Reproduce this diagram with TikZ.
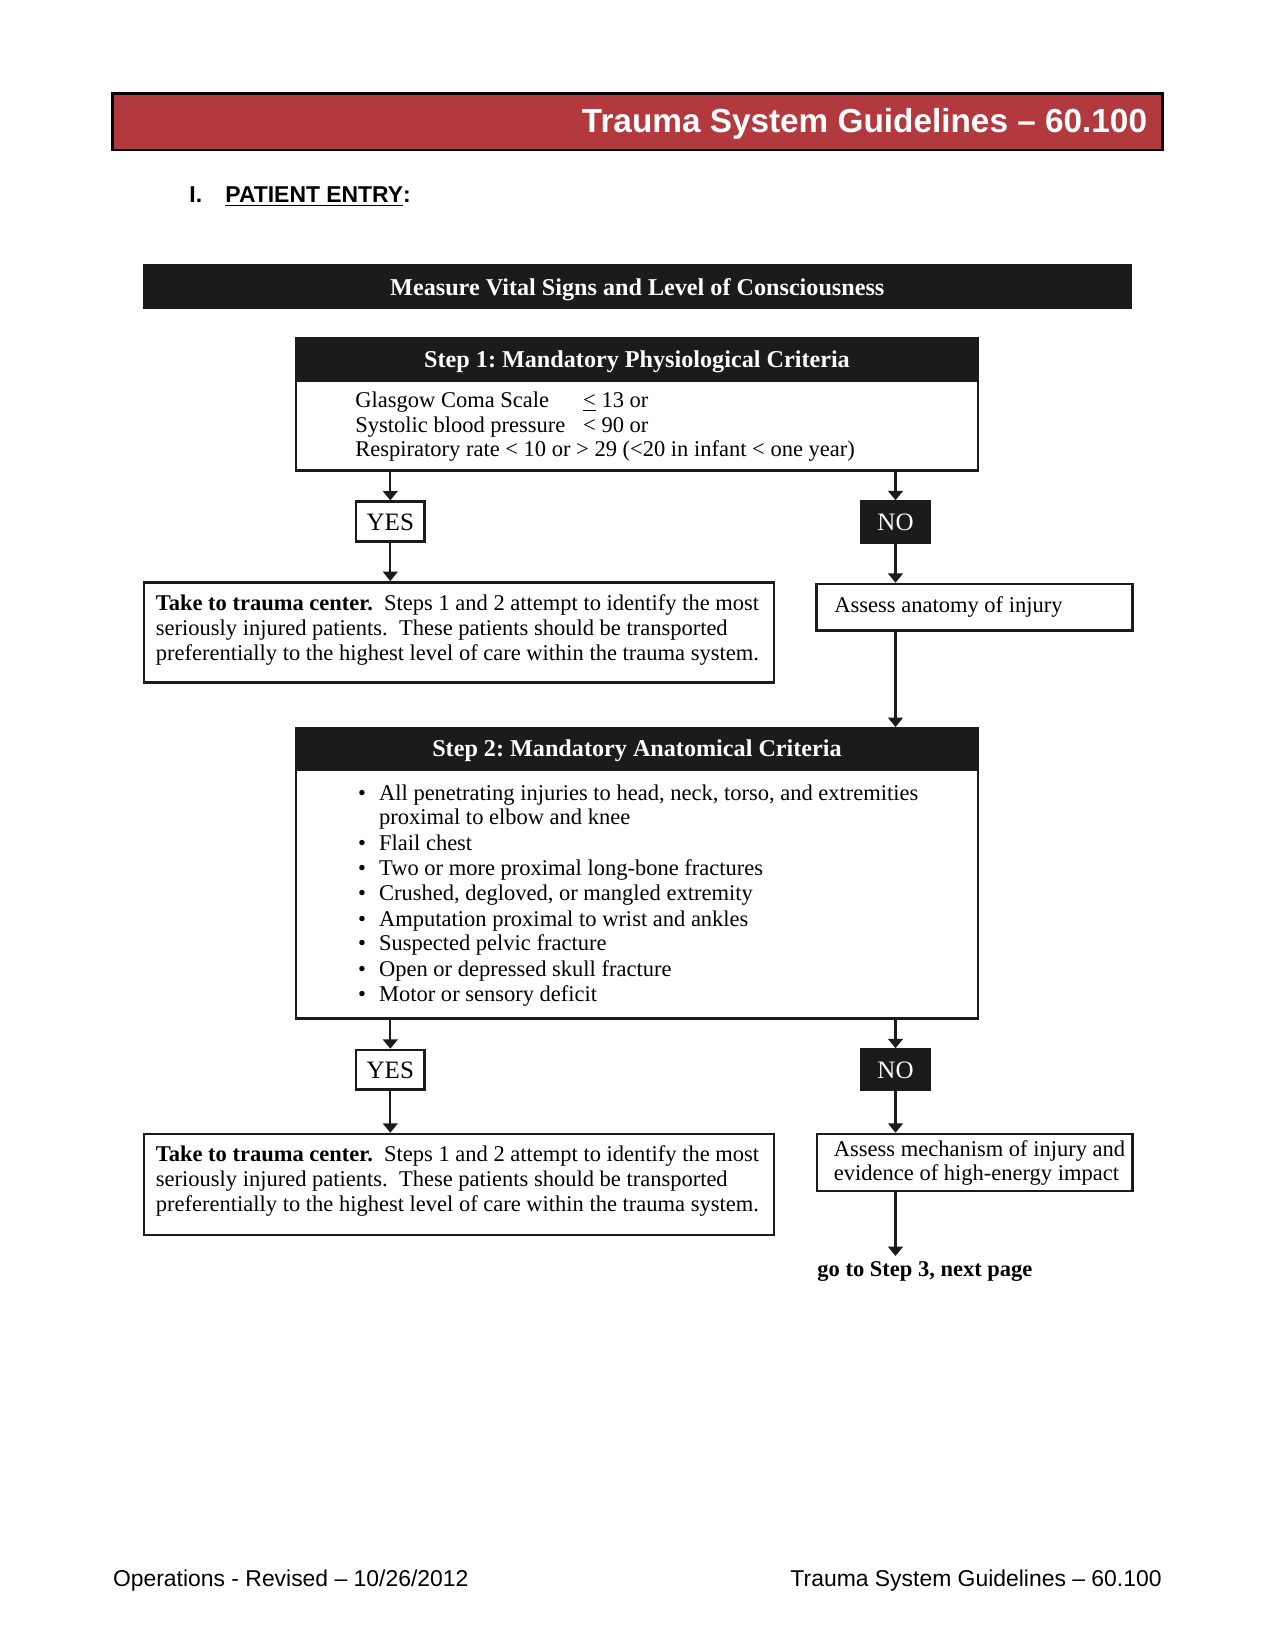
\documentclass[tikz,border=0pt]{standalone}
\usepackage{fontspec}
\setmainfont{Liberation Serif}
\newfontfamily\arialf{Liberation Sans}
\usetikzlibrary{arrows.meta,fit}
\definecolor{hdrred}{RGB}{178,58,62}
\definecolor{barblk}{RGB}{28,26,27}
\newcommand{\bodyf}{\fontsize{10.8}{11.8}\selectfont}
\newcommand{\hdrf}{\fontsize{11.6}{13}\selectfont\bfseries}
\frenchspacing
\begin{document}
\begin{tikzpicture}[x=0.48pt,y=-0.48pt,
  frame/.style={draw=barblk, line width=1.2pt, inner sep=0pt, fill=white},
  hdrbox/.style={fill=barblk, draw=barblk, line width=1.2pt, inner sep=0pt},
  hdrtxt/.style={text=white, font=\hdrf, inner sep=0pt, anchor=base},
  btxt/.style={font=\bodyf, inner sep=0pt, anchor=base west},
  bul/.style={font=\bodyf, inner sep=0pt, anchor=base},
  yesbox/.style={draw=barblk, line width=1.2pt, fill=white, inner sep=0pt},
  nobox/.style={draw=barblk, line width=1.2pt, fill=barblk, inner sep=0pt},
  lbl/.style={font=\fontsize{12}{14}\selectfont, inner sep=0pt, anchor=base},
  arr/.style={-{Triangle[width=7pt,length=4.5pt]}, line width=1.1pt, draw=barblk},
  sansf/.style={inner sep=0pt, font=\arialf\fontsize{11}{13}\selectfont},
]
\useasboundingbox[fill=white] (0,0) rectangle (1275,1650);

% page header
\node[fit={(112.6,93.3) (1162.8,150)}, fill=hdrred, draw=black, line width=1.3pt, inner sep=0pt] (redbar) {};
\node[font=\arialf\bfseries\fontsize{16}{19}\selectfont, text=white, anchor=base east, inner sep=0pt] (title) at (1147.5,133) {Trauma System Guidelines – 60.100};

\node[sansf, font=\arialf\bfseries\fontsize{11}{13}\selectfont, anchor=base west] (secnum) at (189,203) {I.};
\node[sansf, font=\arialf\bfseries\fontsize{11}{13}\selectfont, anchor=base west] (sectitle) at (225,203) {\underline{PATIENT ENTRY}:};

% vital signs bar
\node[fit={(144,265) (1130.7,307.3)}, hdrbox] (vital) {};
\node[hdrtxt] (vitaltxt) at (637.3,296) {Measure Vital Signs and Level of Consciousness};

% step 1
\node[fit={(295.8,338) (978,470.7)}, frame] (s1) {};
\node[fit={(295.8,338) (978,380.7)}, hdrbox] (s1h) {};
\node[hdrtxt] (s1t) at (637,368) {Step 1: Mandatory Physiological Criteria};
\node[btxt] (g1) at (355,408) {Glasgow Coma Scale};
\node[btxt] (g2) at (582.8,408) {\underline{<} 13 or};
\node[btxt] (p1) at (355,433) {Systolic blood pressure};
\node[btxt] (p2) at (582.8,433) {< 90 or};
\node[btxt] (r1) at (355,457) {Respiratory rate < 10 or > 29 (<20 in infant < one year)};

\node[fit={(356,501.7) (424.6,541.7)}, yesbox] (yes1) {};
\node[lbl] (yes1t) at (yes1.center) [yshift=-4.2pt] {YES};
\node[fit={(861,501.5) (930,542.5)}, nobox] (no1) {};
\node[lbl, text=white] (no1t) at (no1.center) [yshift=-4.2pt] {NO};

\node[fit={(144,582.3) (774,682.7)}, frame] (take1) {};
\node[btxt] (t1a) at (155.5,610) {\textbf{Take to trauma center.}\ \ Steps 1 and 2 attempt to identify the most};
\node[btxt] (t1b) at (155.5,635) {seriously injured patients.\ \ These patients should be transported};
\node[btxt] (t1c) at (155.5,660) {preferentially to the highest level of care within the trauma system.};

\node[fit={(816.7,584) (1132.7,630.7)}, frame] (assess1) {};
\node[btxt] (a1t) at (834,612.7) {Assess anatomy of injury};

\draw[arr] (s1.south -| yes1.north) -- (yes1.north);
\draw[arr] (yes1.south) -- (yes1.south |- take1.north);
\draw[arr] (s1.south -| no1.north) -- (no1.north);
\draw[arr] (no1.south) -- (no1.south |- assess1.north);

% step 2
\node[fit={(296,728.3) (978,1018.3)}, frame] (s2) {};
\node[fit={(296,728.3) (978,770)}, hdrbox] (s2h) {};
\node[hdrtxt] (s2t) at (637,756) {Step 2: Mandatory Anatomical Criteria};
\draw[arr] (assess1.south -| no1.south) -- (no1.south |- s2.north);

\node[bul] (k1) at (362,800) {•};
\node[btxt] (l1) at (378.7,800) {All penetrating injuries to head, neck, torso, and extremities};
\node[btxt] (l1b) at (378.7,824) {proximal to elbow and knee};
\node[bul] (k2) at (362,850) {•};
\node[btxt] (l2) at (378.7,850) {Flail chest};
\node[bul] (k3) at (362,875) {•};
\node[btxt] (l3) at (378.7,875) {Two or more proximal long-bone fractures};
\node[bul] (k4) at (362,900) {•};
\node[btxt] (l4) at (378.7,900) {Crushed, degloved, or mangled extremity};
\node[bul] (k5) at (362,926) {•};
\node[btxt] (l5) at (378.7,926) {Amputation proximal to wrist and ankles};
\node[bul] (k6) at (362,950.7) {•};
\node[btxt] (l6) at (378.7,950.7) {Suspected pelvic fracture};
\node[bul] (k7) at (362,976) {•};
\node[btxt] (l7) at (378.7,976) {Open or depressed skull fracture};
\node[bul] (k8) at (362,1001.7) {•};
\node[btxt] (l8) at (378.7,1001.7) {Motor or sensory deficit};

\node[fit={(356,1050) (424.6,1089.3)}, yesbox] (yes2) {};
\node[lbl] (yes2t) at (yes2.center) [yshift=-4.2pt] {YES};
\node[fit={(861,1049.5) (930,1089.3)}, nobox] (no2) {};
\node[lbl, text=white] (no2t) at (no2.center) [yshift=-4.2pt] {NO};

\node[fit={(144,1134) (774,1235)}, frame] (take2) {};
\node[btxt] (t2a) at (155.5,1161.7) {\textbf{Take to trauma center.}\ \ Steps 1 and 2 attempt to identify the most};
\node[btxt] (t2b) at (155.5,1186.7) {seriously injured patients.\ \ These patients should be transported};
\node[btxt] (t2c) at (155.5,1211.7) {preferentially to the highest level of care within the trauma system.};

\node[fit={(817,1134) (1132.7,1191)}, frame] (assess2) {};
\node[btxt] (a2a) at (833.5,1156.7) {Assess mechanism of injury and};
\node[btxt] (a2b) at (833.5,1180) {evidence of high-energy impact};

\draw[arr] (s2.south -| yes2.north) -- (yes2.north);
\draw[arr] (yes2.south) -- (yes2.south |- take2.north);
\draw[arr] (s2.south -| no2.north) -- (no2.north);
\draw[arr] (no2.south) -- (no2.south |- assess2.north);

\coordinate (goend) at (895,1256);
\draw[arr] (assess2.south -| no2.south) -- (no2.south |- goend);
\node[btxt, font=\bodyf\bfseries] (goto) at (817,1276.7) {go to Step 3, next page};

% footer
\node[sansf, anchor=base west] (footl) at (112.6,1586.7) {Operations - Revised – 10/26/2012};
\node[sansf, anchor=base east] (footr) at (1162,1586.7) {Trauma System Guidelines – 60.100};
\end{tikzpicture}
\end{document}
